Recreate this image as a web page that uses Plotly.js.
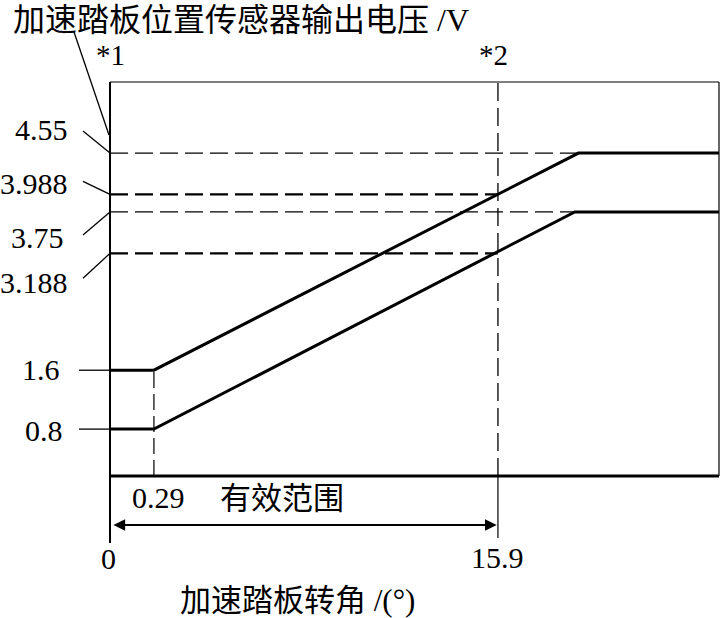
<!DOCTYPE html>
<html><head><meta charset="utf-8">
<script src="https://cdn.plot.ly/plotly-3.0.1.min.js"></script>
<style>html,body{margin:0;padding:0;background:#fff}</style>
</head><body><div id="chart" style="width:721px;height:618px"></div>
<script>
// ---- Data (horizontal positions in the drawing's own scale) ----
const upperAngle = [0, 1.8, 19.2, 24.96];
const upperVolt  = [1.6, 1.6, 4.55, 4.55];
const lowerAngle = [0, 1.8, 19.05, 24.96];
const lowerVolt  = [0.8, 0.8, 3.75, 3.75];
const voltTicks  = [4.55, 3.988, 3.75, 3.188, 1.6, 0.8];
const voltLabels = ['4.55', '3.988', '3.75', '3.188', '1.6', '0.8'];
const guideEnd   = [19.2, 15.9, 19.05, 15.9, null, null];
const angleTicks = [0, 1.8, 15.9];
const angleLabels = ['0', '0.29', '15.9'];
const rangeLabel = '有效范围';
const yTitle = '加速踏板位置传感器输出电压 /V';
const xTitle = '加速踏板转角 /(°)';
const noteLabels = ['*1', '*2'];

// ---- Layout helpers ----
const xRange = [0, 24.96];
const yRange = [0.163, 5.515];
const PLOT_H = 394;
const px = x => (x - xRange[0]) / (xRange[1] - xRange[0]);
const py = v => (v - yRange[0]) / (yRange[1] - yRange[0]);
const pyPix = p => -p / PLOT_H;   // pixels below the plot bottom -> paper
const SERIF = 'Liberation Serif, Times New Roman, serif';
const CJK = 'Liberation Serif, Noto Sans CJK SC, sans-serif';
const BLACK = '#000';

const traces = [
  {x: upperAngle, y: upperVolt, mode: 'lines', line: {color: BLACK, width: 3}, hoverinfo: 'skip'},
  {x: lowerAngle, y: lowerVolt, mode: 'lines', line: {color: BLACK, width: 3}, hoverinfo: 'skip'}
];

const shapes = [];
// frame
shapes.push({type: 'line', xref: 'paper', yref: 'paper', x0: 0, x1: 1, y0: 1, y1: 1, line: {color: BLACK, width: 1.2}});
shapes.push({type: 'line', xref: 'paper', yref: 'paper', x0: 1, x1: 1, y0: 0, y1: 1, line: {color: BLACK, width: 1.2}});
shapes.push({type: 'line', xref: 'paper', yref: 'paper', x0: 0, x1: 1, y0: 0, y1: 0, line: {color: BLACK, width: 3}});
shapes.push({type: 'line', xref: 'paper', yref: 'paper', x0: px(angleTicks[0]), x1: px(angleTicks[0]), y0: pyPix(67), y1: 1, line: {color: BLACK, width: 2}});
shapes.push({type: 'line', xref: 'paper', yref: 'paper', x0: px(angleTicks[2]), x1: px(angleTicks[2]), y0: pyPix(62), y1: 0, line: {color: BLACK, width: 1.2}});
// vertical dashed guides
shapes.push({type: 'line', xref: 'x', yref: 'paper', x0: angleTicks[2], x1: angleTicks[2], y0: 0, y1: 1, line: {color: BLACK, width: 1.3, dash: '18px,7px'}});
shapes.push({type: 'line', xref: 'x', yref: 'y', x0: angleTicks[1], x1: angleTicks[1], y0: yRange[0], y1: upperVolt[1], line: {color: BLACK, width: 1.2, dash: '16px,6px'}});
// horizontal dashed guides
const guideW = [1.2, 2.2, 1.2, 2.2];
voltTicks.forEach((v, i) => {
  if (guideEnd[i] === null) return;
  shapes.push({type: 'line', xref: 'x', yref: 'y', x0: xRange[0], x1: guideEnd[i], y0: v, y1: v,
    line: {color: BLACK, width: guideW[i], dash: '18px,7px'}});
});
// leader lines (pixel offsets from the axis point)
const leadDx = [-27, -27, -27, -27, -31, -31];
const leadDy = [22, 13, -23, -25, 0, 0];
voltTicks.forEach((v, i) => {
  shapes.push({type: 'line', xref: 'paper', yref: 'paper', xsizemode: 'pixel', ysizemode: 'pixel',
    xanchor: 0, yanchor: py(v), x0: leadDx[i], x1: 0, y0: leadDy[i], y1: 0,
    line: {color: BLACK, width: 1.3}});
});
// leader from title note *1
shapes.push({type: 'line', xref: 'paper', yref: 'paper', xsizemode: 'pixel', ysizemode: 'pixel',
  xanchor: 0, yanchor: (476 - 135) / PLOT_H, x0: -36, x1: -1, y0: 103, y1: 0,
  line: {color: BLACK, width: 1.3}});

const annotations = [];
const labShiftX = [-40, -40, -44, -40, -48, -45];
const labShiftY = [24, 11, -26, -29, 1, -1];
voltTicks.forEach((v, i) => {
  annotations.push({xref: 'paper', yref: 'paper', x: 0, y: py(v), xanchor: 'right', yanchor: 'middle',
    xshift: labShiftX[i], yshift: labShiftY[i], showarrow: false, text: voltLabels[i],
    font: {family: SERIF, size: 30, color: BLACK}});
});
const C = {xanchor: 'center', yanchor: 'middle', showarrow: false};
// angle labels
annotations.push(Object.assign({xref: 'x', yref: 'paper', x: angleTicks[0], y: 0, yshift: -82, xshift: -2,
  text: angleLabels[0], font: {family: SERIF, size: 30, color: BLACK}}, C));
annotations.push(Object.assign({xref: 'x', yref: 'paper', x: angleTicks[1], y: 0, yshift: -21, xshift: 5,
  text: angleLabels[1], font: {family: SERIF, size: 30, color: BLACK}}, C));
annotations.push(Object.assign({xref: 'x', yref: 'paper', x: angleTicks[2], y: 0, yshift: -81,
  text: angleLabels[2], font: {family: SERIF, size: 30, color: BLACK}}, C));
annotations.push(Object.assign({xref: 'paper', yref: 'paper', x: (282 - 110) / 609, y: 0, yshift: -22,
  text: rangeLabel, font: {family: CJK, size: 31, color: BLACK}}, C));
// effective range arrow
annotations.push({xref: 'x', yref: 'paper', x: angleTicks[2] - 0.05, y: pyPix(49), axref: 'x', ax: angleTicks[0] + 0.12,
  ayref: 'pixel', ay: 0, text: ' ', font: {size: 1}, showarrow: true, arrowside: 'end+start',
  arrowhead: 2, startarrowhead: 2, arrowsize: 1.3, startarrowsize: 1.3, arrowwidth: 1.8,
  arrowcolor: BLACK, standoff: 0, startstandoff: 0, borderpad: 0});
// notes
annotations.push(Object.assign({xref: 'x', yref: 'paper', x: angleTicks[0], y: 1, yshift: 27, xshift: 0,
  text: noteLabels[0], font: {family: SERIF, size: 29, color: BLACK}}, C));
annotations.push(Object.assign({xref: 'x', yref: 'paper', x: angleTicks[2], y: 1, yshift: 27, xshift: -4,
  text: noteLabels[1], font: {family: SERIF, size: 29, color: BLACK}}, C));
// x title
annotations.push(Object.assign({xref: 'paper', yref: 'paper', x: (297 - 110) / 609, y: 0, yshift: -124,
  text: xTitle, font: {family: CJK, size: 31, color: BLACK}}, C));

const layout = {
  width: 721, height: 618,
  margin: {l: 110, r: 2, t: 82, b: 142, pad: 0},
  paper_bgcolor: '#fff', plot_bgcolor: '#fff',
  showlegend: false, hovermode: false,
  title: {text: yTitle, x: 13 / 721, xanchor: 'left', xref: 'container', y: 1 - 20 / 618, yanchor: 'middle', yref: 'container',
    automargin: false, font: {family: CJK, size: 32, color: BLACK}},
  xaxis: {range: xRange, showgrid: false, zeroline: false, showticklabels: false, ticks: '', showline: false, fixedrange: true},
  yaxis: {range: yRange, showgrid: false, zeroline: false, showticklabels: false, ticks: '', showline: false, fixedrange: true},
  shapes: shapes,
  annotations: annotations
};
Plotly.newPlot('chart', traces, layout, {staticPlot: true, displayModeBar: false});
</script>
</body></html>
